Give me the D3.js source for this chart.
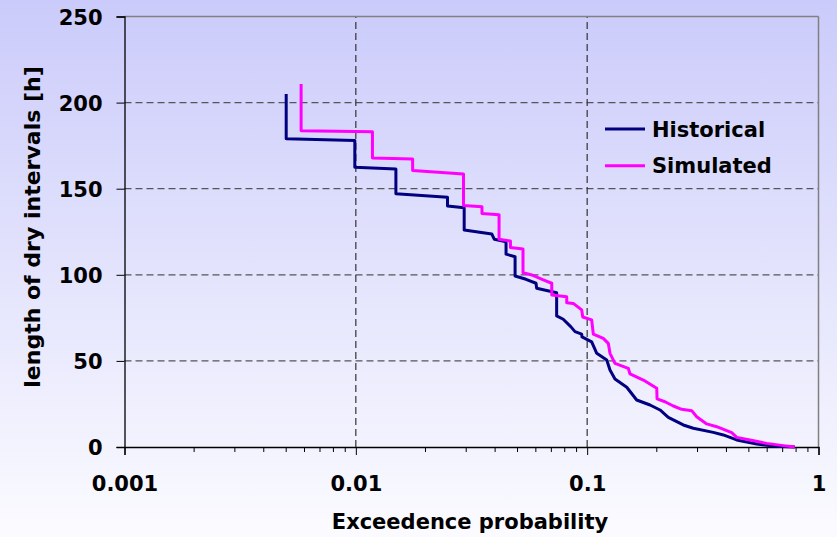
<!DOCTYPE html>
<html>
<head>
<meta charset="utf-8">
<script src="https://cdn.jsdelivr.net/npm/d3@7"></script>
<style>
  body { margin: 0; }
  svg { display: block; font-family: "DejaVu Sans", Verdana, sans-serif; font-weight: bold; }
</style>
</head>
<body>
<div id="chart"></div>
<script>
// exceedence probability vs length of dry intervals
var histProb = [0.005,0.005,0.0099,0.0099,0.0149,0.0149,0.0249,0.0249,0.0294,0.0294,0.0387,0.0397,0.0446,0.0446,0.0488,0.0488,0.0544,0.0601,0.0605,0.0738,0.0738,0.0788,0.0849,0.0886,0.0947,0.095,0.1046,0.110,0.1215,0.1255,0.1319,0.1483,0.1637,0.187,0.2065,0.2243,0.2603,0.2876,0.3509,0.3878,0.443,0.541,0.66,0.79];
var histLen = [205,179,178,162.5,161.4,147,145,140,139,126,123.7,120.6,119.2,112,110.5,99.3,97.4,95.1,92.2,89.6,76.1,74.2,69.9,67,65.6,63.9,61.1,54.4,50.5,44.7,39.5,34.7,27.3,24.4,21.5,17.2,12.8,10.9,8.5,7,4.1,1.7,0.4,0];

var simProb = [0.0058,0.0058,0.0118,0.0118,0.0176,0.0176,0.0292,0.0292,0.0351,0.0351,0.0416,0.0416,0.0466,0.0466,0.0528,0.0528,0.0576,0.0646,0.0703,0.0703,0.0816,0.0816,0.0871,0.0947,0.0957,0.1046,0.1063,0.1174,0.1234,0.1255,0.1319,0.1506,0.1532,0.1749,0.1999,0.2005,0.217,0.2357,0.2563,0.2831,0.2975,0.3286,0.3631,0.4215,0.443,0.5058,0.597,0.7046,0.79];
var simLen = [210.8,183.7,183.1,167.8,167.2,160.6,158.5,140.2,139.5,135.6,134.9,120.6,119.6,115.9,115,101.2,99.9,97,95.1,88.3,87.3,83.8,83.4,79.6,75.5,73.8,65.6,63.1,60.2,54.4,48.6,45.7,42.4,38.9,34.1,27.9,26.3,23.8,21.9,21.1,17.6,13.4,11.8,8.3,5.6,4.1,2.1,0.8,0];

var seriesNames = ["Historical", "Simulated"];
var seriesColors = ["#000080", "#ff00ff"];
var xTicks = [0.001, 0.01, 0.1, 1];
var yTicks = [0, 50, 100, 150, 200, 250];

var width = 837, height = 537;
var margin = {top: 16.5, right: 18.5, bottom: 90, left: 124.5};
var font = "DejaVu Sans, Verdana, sans-serif";

var svg = d3.select("#chart").append("svg")
    .attr("width", width)
    .attr("height", height);

var grad = svg.append("defs").append("linearGradient")
    .attr("id", "bg").attr("x1", 0).attr("y1", 0).attr("x2", 0).attr("y2", 1);
grad.append("stop").attr("offset", "0%").attr("stop-color", "#cbcbfb");
grad.append("stop").attr("offset", "100%").attr("stop-color", "#fbfbff");

svg.append("rect").attr("width", width).attr("height", height).attr("fill", "url(#bg)");

var x = d3.scaleLog().domain([0.001, 1]).range([margin.left, width - margin.right]);
var y = d3.scaleLinear().domain([0, 250]).range([height - margin.bottom, margin.top]);

// grid
var grid = svg.append("g");
grid.selectAll("line.h")
    .data(yTicks.filter(d => d > 0 && d < 250))
    .enter().append("line")
    .attr("x1", x(0.001)).attr("x2", x(1))
    .attr("y1", d => y(d)).attr("y2", d => y(d))
    .attr("stroke", "#555").attr("stroke-width", 1.2)
    .attr("stroke-dasharray", "7,4");
grid.selectAll("line.v")
    .data([0.01, 0.1])
    .enter().append("line")
    .attr("x1", d => x(d)).attr("x2", d => x(d))
    .attr("y1", y(0)).attr("y2", y(250))
    .attr("stroke", "#333").attr("stroke-width", 1.2)
    .attr("stroke-dasharray", "7,4");

// top / right frame
svg.append("line")
    .attr("x1", x(0.001)).attr("x2", x(1)).attr("y1", y(250)).attr("y2", y(250))
    .attr("stroke", "#808080").attr("stroke-width", 1.5);
svg.append("line")
    .attr("x1", x(1)).attr("x2", x(1)).attr("y1", y(250)).attr("y2", y(0))
    .attr("stroke", "#808080").attr("stroke-width", 1.5);

// axes
var yAxis = svg.append("g")
    .attr("transform", "translate(" + margin.left + ",0)")
    .call(d3.axisLeft(y).tickValues(yTicks).tickSize(8).tickPadding(14));
yAxis.attr("font-family", font).attr("font-size", 21);
yAxis.selectAll("text").attr("dy", "0.36em");

var minor = [];
[0.001, 0.01, 0.1].forEach(function (dec) {
    for (var k = 2; k <= 9; k++) minor.push(dec * k);
});
svg.append("g")
    .attr("transform", "translate(0," + y(0) + ")")
    .selectAll("line")
    .data(minor)
    .enter().append("line")
    .attr("x1", d => x(d)).attr("x2", d => x(d))
    .attr("y1", 0).attr("y2", 5)
    .attr("stroke", "#000");

var xAxis = svg.append("g")
    .attr("transform", "translate(0," + y(0) + ")")
    .call(d3.axisBottom(x).tickValues(xTicks).tickFormat(d3.format("~g")).tickSize(8).tickPadding(21));
xAxis.attr("font-family", font).attr("font-size", 21);

svg.selectAll(".domain").attr("stroke", "#000").attr("stroke-width", 1.3);
svg.selectAll(".tick line").attr("stroke", "#000");
svg.selectAll(".tick text").attr("fill", "#000");

// titles
svg.append("text")
    .attr("x", 470).attr("y", 529)
    .attr("text-anchor", "middle")
    .style("font-size", "21px")
    .text("Exceedence probability");
svg.append("text")
    .attr("transform", "translate(40,227) rotate(-90)")
    .attr("text-anchor", "middle")
    .style("font-size", "22px")
    .text("length of dry intervals [h]");

// series
var line = d3.line()
    .x(d => x(d[0]))
    .y(d => y(d[1]));

var series = [
    d3.zip(histProb, histLen),
    d3.zip(simProb, simLen)
];

svg.append("path")
    .datum(series[0])
    .attr("d", line)
    .attr("fill", "none")
    .attr("stroke", seriesColors[0])
    .attr("stroke-width", 3)
    .attr("stroke-linejoin", "round");
svg.append("path")
    .datum(series[1])
    .attr("d", line)
    .attr("fill", "none")
    .attr("stroke", seriesColors[1])
    .attr("stroke-width", 3)
    .attr("stroke-linejoin", "round");

// legend
var legend = svg.append("g").attr("transform", "translate(605,129)");
seriesNames.forEach(function (name, i) {
    var g = legend.append("g").attr("transform", "translate(0," + (i * 36.7) + ")");
    g.append("line").attr("x1", 0).attr("x2", 40).attr("y1", 0).attr("y2", 0)
        .attr("stroke", seriesColors[i]).attr("stroke-width", 3);
    g.append("text").attr("x", 47).attr("y", 0).attr("dy", "0.36em")
        .style("font-size", "21px")
        .text(name);
});
</script>
</body>
</html>
